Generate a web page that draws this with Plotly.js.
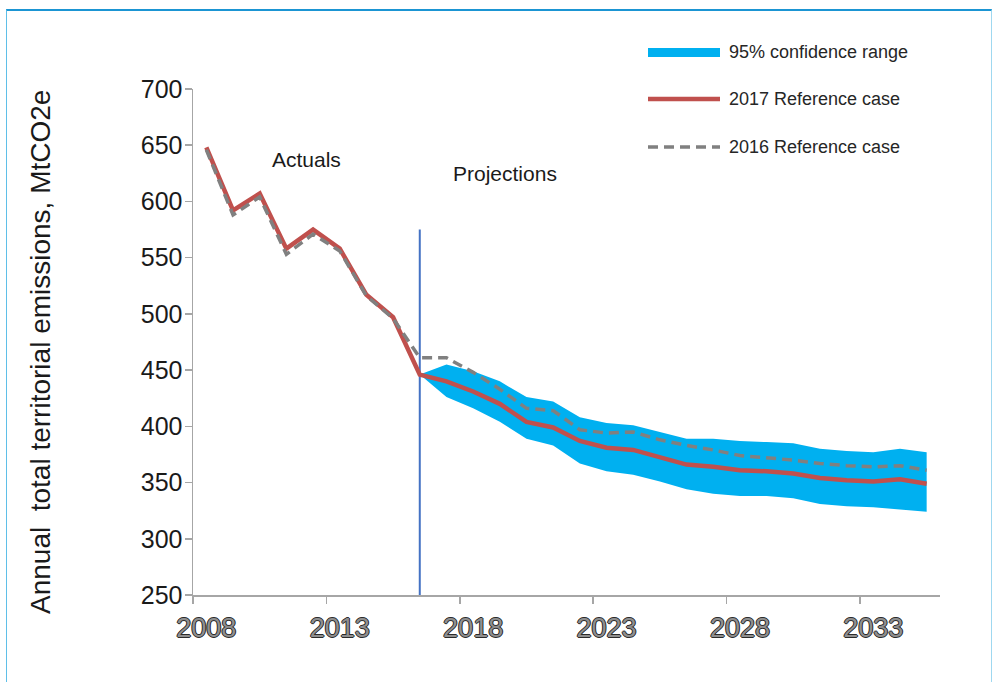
<!DOCTYPE html>
<html>
<head>
<meta charset="utf-8">
<script src="https://cdn.plot.ly/plotly-3.0.1.min.js"></script>
<style>
  html, body { margin: 0; padding: 0; background: #ffffff; }
  #wrap { position: relative; width: 993px; height: 682px; overflow: hidden; }
  #chart { width: 993px; height: 682px; }
  #frame {
    position: absolute; left: 6px; top: 9px; width: 984px; height: 700px;
    border-top: 2px solid #1b95d3; border-left: 1px solid #5fbfe8; border-right: 1px solid #9fd8f0;
    pointer-events: none;
  }
</style>
</head>
<body>
<div id="wrap">
  <div id="chart"></div>
  <div id="frame"></div>
</div>
<script>
// Annual territorial emissions (MtCO2e), actuals to 2016 then projections to 2035
const years = [2008, 2009, 2010, 2011, 2012, 2013, 2014, 2015, 2016, 2017,
               2018, 2019, 2020, 2021, 2022, 2023, 2024, 2025, 2026, 2027,
               2028, 2029, 2030, 2031, 2032, 2033, 2034, 2035];

// 2017 reference case (actuals + central projection)
const ref2017 = [648, 592, 607, 558, 575, 558, 517, 497, 446, 440,
                 431, 420, 404, 399, 387, 381, 379, 372, 366, 364,
                 361, 360, 358, 354, 352, 351, 353, 349];

// 2016 reference case
const ref2016 = [646, 588, 604, 553, 571, 556, 516, 496, 461, 461,
                 448, 433, 416, 414, 397, 394, 395, 388, 383, 379,
                 374, 372, 370, 367, 365, 364, 365, 361];

// 95% confidence range of the projection
const bandYears = [2016, 2017, 2018, 2019, 2020, 2021, 2022, 2023, 2024, 2025,
                   2026, 2027, 2028, 2029, 2030, 2031, 2032, 2033, 2034, 2035];
const bandUpper = [446, 455, 449, 440, 426, 422, 408, 403, 401, 395,
                   389, 389, 387, 386, 385, 380, 378, 377, 380, 377];
const bandLower = [446, 426, 416, 404, 389, 383, 367, 360, 357, 351,
                   344, 340, 338, 338, 336, 331, 329, 328, 326, 324];

// Divider between actuals and projections
const dividerX = [2016, 2016];
const dividerY = [250, 575];

const legendLabels = ['95% confidence range', '2017 Reference case', '2016 Reference case'];
const xTickVals = [2008, 2013, 2018, 2023, 2028, 2033];
const yTickVals = [250, 300, 350, 400, 450, 500, 550, 600, 650, 700];

const FONT = 'Arial, "Liberation Sans", sans-serif';
const BLUE = '#00b0f0';
const RED = '#c0504d';
const GREY = '#808080';

const traces = [
  { x: bandYears, y: bandLower, mode: 'lines', line: { width: 0, color: BLUE },
    hoverinfo: 'skip', showlegend: false },
  { x: bandYears, y: bandUpper, mode: 'lines', line: { width: 0, color: BLUE },
    fill: 'tonexty', fillcolor: BLUE, name: legendLabels[0], showlegend: false },
  { x: dividerX, y: dividerY, mode: 'lines', line: { width: 2, color: '#4472c4' },
    hoverinfo: 'skip', showlegend: false },
  { x: years, y: ref2017, mode: 'lines', name: legendLabels[1],
    line: { width: 4.5, color: RED }, showlegend: false },
  { x: years, y: ref2016, mode: 'lines', name: legendLabels[2],
    line: { width: 3.5, color: GREY, dash: '10px,6px' }, showlegend: false }
];

// Hand-placed key in paper coordinates (plot area spans 193..940 x 89..595 px)
const px = v => (v - 193) / 747;
const py = v => (595 - v) / 506;
const keyX0 = px(648), keyX1 = px(720), keyText = px(727);
const keyRows = [52, 99, 147].map(py);

const shapes = [
  { type: 'rect', xref: 'paper', yref: 'paper', x0: keyX0, x1: keyX1,
    y0: py(57), y1: py(48), fillcolor: BLUE, line: { width: 0 } },
  { type: 'line', xref: 'paper', yref: 'paper', x0: keyX0, x1: keyX1,
    y0: keyRows[1], y1: keyRows[1], line: { color: RED, width: 4.5 } },
  { type: 'line', xref: 'paper', yref: 'paper', x0: keyX0, x1: keyX1,
    y0: keyRows[2], y1: keyRows[2], line: { color: GREY, width: 3.5, dash: '10px,6px' } }
];

const annotations = legendLabels.map((t, i) => ({
  text: t, xref: 'paper', yref: 'paper', x: keyText, y: keyRows[i],
  xanchor: 'left', yanchor: 'middle', showarrow: false,
  font: { family: FONT, size: 18, color: '#262626' }
}));

annotations.push(
  { text: 'Actuals', x: 2011.75, y: 637, xref: 'x', yref: 'y', showarrow: false,
    xanchor: 'center', yanchor: 'middle', font: { family: FONT, size: 21, color: '#1a1a1a' } },
  { text: 'Projections', x: 2019.2, y: 625, xref: 'x', yref: 'y', showarrow: false,
    xanchor: 'center', yanchor: 'middle', font: { family: FONT, size: 21, color: '#1a1a1a' } },
  { text: 'Annual  total territorial emissions, MtCO2e', xref: 'paper', yref: 'paper',
    x: px(40), y: py(352), textangle: -90, showarrow: false,
    xanchor: 'center', yanchor: 'middle', font: { family: FONT, size: 28, color: '#1a1a1a' } }
);

const layout = {
  width: 993, height: 682,
  margin: { l: 193, r: 53, t: 89, b: 87, pad: 0 },
  paper_bgcolor: '#ffffff', plot_bgcolor: '#ffffff',
  showlegend: false,
  font: { family: FONT, color: '#1a1a1a' },
  xaxis: {
    range: [2007.5, 2035.5], fixedrange: true,
    tickvals: xTickVals, ticktext: xTickVals.map(String),
    ticks: '', showgrid: false, zeroline: false,
    showline: true, linecolor: '#a6a6a6', linewidth: 1.5,
    ticklabelstandoff: 8,
    tickfont: { family: FONT, size: 27, color: '#8f8f8f',
      shadow: '1px 0 0 #2b2b2b, -1px 0 0 #2b2b2b, 0 1px 0 #2b2b2b, 0 -1px 0 #2b2b2b' },
    minor: { ticks: 'outside', tick0: 2007.5, dtick: 5, ticklen: 7,
             tickcolor: '#a6a6a6', tickwidth: 1.5, showgrid: false }
  },
  yaxis: {
    range: [250, 700], fixedrange: true,
    tickvals: yTickVals, ticks: 'outside', ticklen: 7,
    tickcolor: '#a6a6a6', tickwidth: 1.5,
    ticklabelstandoff: -3,
    showgrid: false, zeroline: false,
    showline: true, linecolor: '#a6a6a6', linewidth: 1.5,
    tickfont: { family: FONT, size: 25, color: '#1a1a1a' }
  },
  shapes: shapes,
  annotations: annotations
};

Plotly.newPlot('chart', traces, layout, { displayModeBar: false, staticPlot: true });
</script>
</body>
</html>
